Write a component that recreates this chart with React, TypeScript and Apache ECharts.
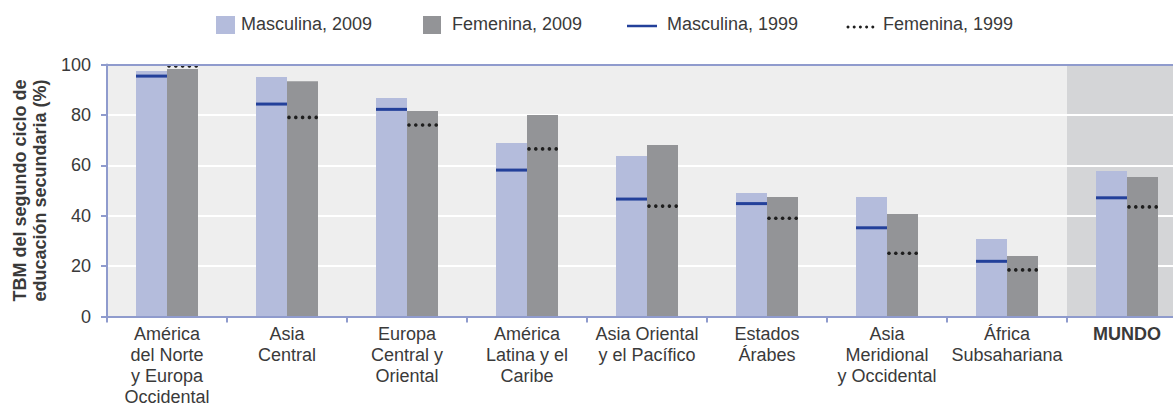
import React, { useEffect, useRef } from "react";
import * as echarts from "echarts";

const CATEGORIES = [
  "América\ndel Norte\ny Europa\nOccidental",
  "Asia\nCentral",
  "Europa\nCentral y\nOriental",
  "América\nLatina y el\nCaribe",
  "Asia Oriental\ny el Pacífico",
  "Estados\nÁrabes",
  "Asia\nMeridional\ny Occidental",
  "África\nSubsahariana",
  "MUNDO",
];
const HIGHLIGHT = "MUNDO";
const MASC_2009 = [97.4, 95.0, 86.7, 68.8, 63.7, 49.0, 47.4, 30.8, 57.7];
const FEM_2009 = [98.2, 93.4, 81.5, 80.0, 68.1, 47.4, 40.7, 24.0, 55.4];
const MASC_1999 = [95.4, 84.3, 82.2, 58.1, 46.6, 44.8, 35.2, 21.9, 47.1];
const FEM_1999 = [99.4, 79.0, 76.0, 66.5, 43.8, 39.0, 25.1, 18.5, 43.5];
const Y_MIN = 0;
const Y_MAX = 100;
const Y_STEP = 20;
const LEGEND = ["Masculina, 2009", "Femenina, 2009", "Masculina, 1999", "Femenina, 1999"];
const Y_NAME = "TBM del segundo ciclo de\neducación secundaria (%)";

const FONT = "'Liberation Sans', Arial, Helvetica, sans-serif";
const TEXT = "#3a3a3a";
const AXIS = "#8f9bcd";
const LIGHT = "#b4bcdc";
const DARK = "#939497";
const BLUE = "#23409a";
const DOT = "#1e1e1e";
const BG = "#eeeeee";
const BG_HL = "#d4d5d7";
const BAR_W = 31;

export default function App() {
  const ref = useRef<HTMLDivElement>(null);
  useEffect(() => {
    if (!ref.current) return;
    const chart = echarts.init(ref.current, undefined, { renderer: "svg" });
    const option: any = {
      animation: false,
      textStyle: { fontFamily: FONT },
      grid: {
        left: 107,
        top: 64.5,
        width: 120 * CATEGORIES.length,
        height: 252,
        containLabel: false,
        outerBoundsMode: "none",
      },
      xAxis: [
        {
          type: "category",
          data: CATEGORIES,
          z: 4,
          axisLine: { lineStyle: { color: AXIS, width: 2 } },
          axisTick: { show: true, length: 6, lineStyle: { color: AXIS, width: 2 } },
          axisLabel: {
            interval: 0,
            margin: 7,
            fontSize: 18,
            lineHeight: 21,
            color: TEXT,
            fontFamily: FONT,
            formatter: (v: string) => (v === HIGHLIGHT ? `{b|${v}}` : v),
            rich: { b: { fontWeight: "bold", fontSize: 18, color: TEXT, fontFamily: FONT } },
          },
        },
        { type: "category", data: CATEGORIES, show: false },
        {
          type: "category",
          data: CATEGORIES,
          position: "top",
          z: 4,
          axisLine: { lineStyle: { color: AXIS, width: 2 } },
          axisTick: { show: false },
          axisLabel: { show: false },
        },
      ],
      yAxis: {
        type: "value",
        min: Y_MIN,
        max: Y_MAX,
        interval: Y_STEP,
        z: 1.5,
        name: Y_NAME,
        nameLocation: "middle",
        nameRotate: 90,
        nameGap: 56,
        nameTextStyle: { fontSize: 18, fontWeight: "bold", lineHeight: 20, color: TEXT, fontFamily: FONT },
        axisLine: { show: true, lineStyle: { color: AXIS, width: 2 } },
        axisTick: { show: true, length: 6, lineStyle: { color: AXIS, width: 2 } },
        axisLabel: { fontSize: 18, margin: 16, color: TEXT, fontFamily: FONT },
        splitLine: { show: true, lineStyle: { color: "#ffffff", width: 2 } },
      },
      series: [
        {
          type: "bar",
          xAxisIndex: 1,
          silent: true,
          z: 1,
          barWidth: "100%",
          data: CATEGORIES.map((c) => ({ value: Y_MAX, itemStyle: { color: c === HIGHLIGHT ? BG_HL : BG } })),
        },
        { name: LEGEND[0], type: "bar", z: 2, barWidth: BAR_W, barGap: 0, itemStyle: { color: LIGHT }, data: MASC_2009 },
        { name: LEGEND[1], type: "bar", z: 2, barWidth: BAR_W, barGap: 0, itemStyle: { color: DARK }, data: FEM_2009 },
        {
          name: LEGEND[2],
          type: "custom",
          z: 3,
          data: MASC_1999.map((v, i) => [i, v]),
          encode: { x: 0, y: 1 },
          renderItem: (params: any, api: any) => {
            const p = api.coord([api.value(0), api.value(1)]);
            return {
              type: "line",
              shape: { x1: p[0] - BAR_W, y1: p[1], x2: p[0], y2: p[1] },
              style: { stroke: BLUE, lineWidth: 3 },
            };
          },
        },
        {
          name: LEGEND[3],
          type: "custom",
          z: 3,
          data: FEM_1999.map((v, i) => [i, v]),
          encode: { x: 0, y: 1 },
          renderItem: (params: any, api: any) => {
            const p = api.coord([api.value(0), api.value(1)]);
            const children = [0, 1, 2, 3, 4].map((k) => ({
              type: "circle",
              shape: { cx: p[0] + 2 + k * 6.8, cy: p[1], r: 1.8 },
              style: { fill: DOT },
            }));
            return { type: "group", children };
          },
        },
      ],
      graphic: [
        { type: "rect", left: 216, top: 16, shape: { width: 19, height: 18 }, style: { fill: LIGHT } },
        { type: "text", left: 241, top: 15, style: { text: LEGEND[0], fontSize: 18, fill: TEXT, fontFamily: FONT } },
        { type: "rect", left: 423, top: 16, shape: { width: 18, height: 18 }, style: { fill: DARK } },
        { type: "text", left: 452, top: 15, style: { text: LEGEND[1], fontSize: 18, fill: TEXT, fontFamily: FONT } },
        { type: "line", shape: { x1: 627, y1: 26, x2: 657, y2: 26 }, style: { stroke: BLUE, lineWidth: 2.5 } },
        { type: "text", left: 667, top: 15, style: { text: LEGEND[2], fontSize: 18, fill: TEXT, fontFamily: FONT } },
        ...[0, 1, 2, 3, 4].map((k) => ({
          type: "circle",
          shape: { cx: 848 + k * 6.2, cy: 27, r: 1.5 },
          style: { fill: DOT },
        })),
        { type: "text", left: 883, top: 15, style: { text: LEGEND[3], fontSize: 18, fill: TEXT, fontFamily: FONT } },
      ],
    };
    chart.setOption(option);
    return () => chart.dispose();
  }, []);
  return (
    <div style={{ position: "fixed", left: 0, top: 0, width: 1173, height: 409, overflow: "hidden", background: "#fff" }}>
      <div ref={ref} style={{ width: 1200, height: 409 }} />
    </div>
  );
}
